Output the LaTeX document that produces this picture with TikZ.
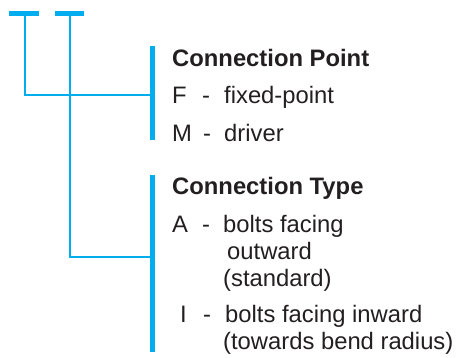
\documentclass[tikz,border=0pt]{standalone}
\usepackage{fontspec}
\setmainfont{Liberation Sans}
\definecolor{cblue}{HTML}{00AEEF}
\definecolor{ctext}{HTML}{231F20}
\begin{document}
\begin{tikzpicture}[x=1pt,y=-1pt,
  thin line/.style={draw=cblue,line width=2pt},
  thick bar/.style={draw=cblue,line width=5pt},
  lbl/.style={anchor=base west,inner sep=0pt,text=ctext,font=\fontsize{23.8}{28}\selectfont},
  head/.style={lbl,font=\fontsize{23.8}{28}\selectfont\bfseries}]
\useasboundingbox (0,0) rectangle (456,358);
% top bars
\coordinate (b1l) at (9,14); \coordinate (b1r) at (39,14);
\coordinate (b2l) at (55,14); \coordinate (b2r) at (84,14);
\draw[thick bar] (b1l) -- (b1r);
\draw[thick bar] (b2l) -- (b2r);
% stems
\coordinate (s1t) at (25,14); \coordinate (s1b) at (25,95.5);
\coordinate (s2t) at (69.5,14); \coordinate (s2b) at (69.5,256.7);
% right bars
\coordinate (r1t) at (152.5,46); \coordinate (r1b) at (152.5,140);
\coordinate (r2t) at (152.5,175.5); \coordinate (r2b) at (152.5,352);
\coordinate (r1m) at (152.5,95.5); \coordinate (r2m) at (152.5,256.7);
\draw[thin line,line cap=rect] (s1t) -- (s1b) -- (r1m);
\draw[thin line,line cap=rect] (s2t) -- (s2b) -- (r2m);
\draw[thick bar] (r1t) -- (r1b);
\draw[thick bar] (r2t) -- (r2b);
% texts
\node[head] (h1) at (172,67) {Connection Point};
\node[lbl] (f1) at (172,104) {F};
\node[lbl] (f2) at (202,104) {-};
\node[lbl] (f3) at (224,104) {fixed-point};
\node[lbl] (m1) at (172,142) {M};
\node[lbl] (m2) at (203,142) {-};
\node[lbl] (m3) at (224,142) {driver};
\node[head] (h2) at (172,195) {Connection Type};
\node[lbl] (a1) at (172,233) {A};
\node[lbl] (a2) at (202,233) {-};
\node[lbl] (a3) at (223,233) {bolts facing};
\node[lbl] (a4) at (227,260) {outward};
\node[lbl] (a5) at (223,287) {(standard)};
\node[lbl] (i1) at (180,323) {I};
\node[lbl] (i2) at (203,323) {-};
\node[lbl] (i3) at (225,323) {bolts facing inward};
\node[lbl] (i4) at (223,350) {(towards bend radius)};
\end{tikzpicture}
\end{document}
